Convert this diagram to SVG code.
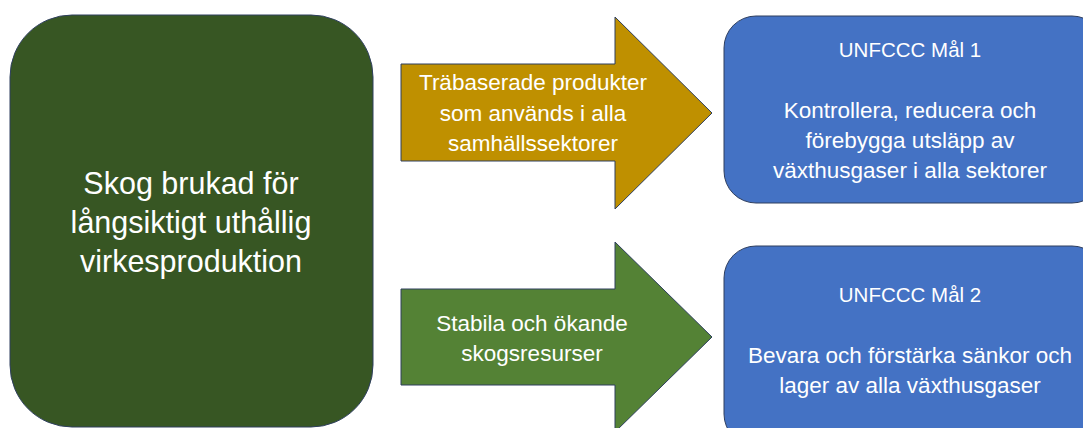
<svg xmlns="http://www.w3.org/2000/svg" width="1083" height="428" viewBox="0 0 1083 428">
<style>
.t{font-family:"Liberation Sans",Arial,sans-serif;fill:#ffffff;text-anchor:middle}
.big{font-size:30.5px}
.mid{font-size:22.5px}
.hd{font-size:20.5px}
.sh{stroke:#2F3F5F;stroke-width:1}
</style>
<rect width="1083" height="428" fill="#ffffff"/>
<g id="forest">
<rect class="sh" x="10" y="15" width="363" height="412" rx="62" ry="62" fill="#375623"/>
<text class="t big" x="191" y="194">Skog brukad för</text>
<text class="t big" x="191" y="233">långsiktigt uthållig</text>
<text class="t big" x="191" y="272">virkesproduktion</text>
</g>
<g id="connectors">
<g id="arrow-products">
<polygon class="sh" points="401,64 615,64 615,17 712,113 615,209 615,161 401,161" fill="#BF9000"/>
<text class="t mid" x="533" y="90">Träbaserade produkter</text>
<text class="t mid" x="533" y="121">som används i alla</text>
<text class="t mid" x="533" y="151">samhällssektorer</text>
</g>
<g id="arrow-resources">
<polygon class="sh" points="401,289 615,289 615,242 712,337 615,432 615,385 401,385" fill="#548235"/>
<text class="t mid" x="532" y="331">Stabila och ökande</text>
<text class="t mid" x="532" y="361">skogsresurser</text>
</g>
</g>
<g id="goal1">
<rect class="sh" x="724" y="16" width="380" height="187" rx="32" ry="32" fill="#4472C4"/>
<text class="t hd" x="910" y="57">UNFCCC Mål 1</text>
<text class="t mid" x="910" y="118">Kontrollera, reducera och</text>
<text class="t mid" x="910" y="148">förebygga utsläpp av</text>
<text class="t mid" x="910" y="178">växthusgaser i alla sektorer</text>
</g>
<g id="goal2">
<rect class="sh" x="724" y="246" width="380" height="200" rx="32" ry="32" fill="#4472C4"/>
<text class="t hd" x="910" y="302">UNFCCC Mål 2</text>
<text class="t mid" x="910" y="363">Bevara och förstärka sänkor och</text>
<text class="t mid" x="910" y="393">lager av alla växthusgaser</text>
</g>
</svg>
